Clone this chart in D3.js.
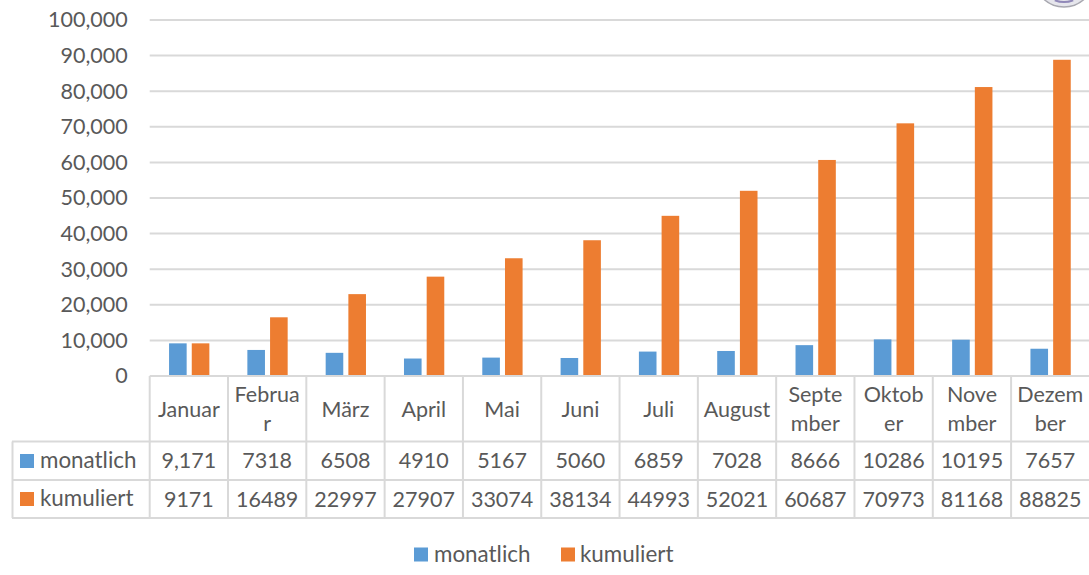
<!DOCTYPE html>
<html><head><meta charset="utf-8">
<script src="https://cdnjs.cloudflare.com/ajax/libs/d3/7.8.5/d3.min.js"></script>
<style>html,body{margin:0;padding:0;background:#fff}svg{display:block}text{font-family:Lato,"Open Sans",sans-serif;fill:#595959}</style>
</head><body><svg id="c" width="1089" height="575"></svg>
<script>
const months=["Januar","Februar","März","April","Mai","Juni","Juli","August","September","Oktober","November","Dezember"];
const monthLines=[["Januar"],["Februa","r"],["März"],["April"],["Mai"],["Juni"],["Juli"],["August"],["Septe","mber"],["Oktob","er"],["Nove","mber"],["Dezem","ber"]];
const monatlich=[9171,7318,6508,4910,5167,5060,6859,7028,8666,10286,10195,7657];
const kumuliert=[9171,16489,22997,27907,33074,38134,44993,52021,60687,70973,81168,88825];
const monatlichLabels=["9,171","7318","6508","4910","5167","5060","6859","7028","8666","10286","10195","7657"];
const seriesNames=["monatlich","kumuliert"];
const yTicks=[0,10000,20000,30000,40000,50000,60000,70000,80000,90000,100000];
const colors=["#5b9bd5","#ed7d31"];
const grid="#d9d9d9";
const svg=d3.select("#c");
const x=d3.scaleBand().domain(months).range([149.7,1089.4]).padding(0);
const y=d3.scaleLinear().domain([0,100000]).range([376,20]);
const fs=21.5, fsText=22.4;
// gridlines + y labels
const ya=svg.append("g").attr("transform","translate(149.7,0)")
 .call(d3.axisLeft(y).tickValues(yTicks).tickFormat(d3.format(",")).tickSize(0).tickPadding(22));
ya.select(".domain").remove();
ya.selectAll("text").style("font-size",fs+"px").style("font-family","Lato").attr("fill","#595959");
svg.append("g").selectAll("line").data(yTicks.filter(d=>d>0)).join("line")
 .attr("x1",149.7).attr("x2",1089).attr("y1",d=>y(d)).attr("y2",d=>y(d))
 .attr("stroke",grid).attr("stroke-width",2);
// bars
const barW=17.6;
[monatlich,kumuliert].forEach((vals,i)=>{
 svg.append("g").selectAll("rect").data(vals).join("rect")
  .attr("x",(d,j)=>x(months[j])+x.bandwidth()/2+(i===0?-19.8:2.9))
  .attr("width",barW)
  .attr("y",d=>y(d)).attr("height",d=>y(0)-y(d))
  .attr("fill",colors[i]);
});
// table
const rows=[376,441.5,480,518];
const tl=svg.append("g").attr("stroke",grid).attr("stroke-width",2);
rows.forEach((r,i)=>tl.append("line").attr("x1",i===0?149.7:12).attr("x2",1089).attr("y1",r).attr("y2",r));
tl.append("line").attr("x1",12.5).attr("x2",12.5).attr("y1",441.5).attr("y2",518);
months.forEach(m=>tl.append("line").attr("x1",x(m)).attr("x2",x(m)).attr("y1",376).attr("y2",518));
// month labels
months.forEach((m,i)=>{
 const ls=monthLines[i],cx=x(m)+x.bandwidth()/2;
 const y0=ls.length===1?409:394;
 ls.forEach((t,k)=>svg.append("text").text(t).attr("x",cx).attr("y",y0+k*29.5).attr("dy","0.35em").attr("text-anchor","middle").style("font-size",fs+"px"));
});
// value rows
[monatlichLabels,kumuliert].forEach((vals,r)=>{
 const cy=[460.5,499][r];
 svg.append("g").selectAll("text").data(vals).join("text").text(d=>d)
  .attr("x",(d,j)=>x(months[j])+x.bandwidth()/2).attr("y",cy).attr("dy","0.35em")
  .attr("text-anchor","middle").style("font-size",fs+"px");
 svg.append("rect").attr("x",20).attr("y",[454,492][r]).attr("width",14).attr("height",14).attr("fill",colors[r]);
 svg.append("text").text(seriesNames[r]).attr("x",40).attr("y",[460,498][r]).attr("dy","0.35em").style("font-size",fsText+"px");
});
// legend
[[414,434],[561,580]].forEach((p,i)=>{
 svg.append("rect").attr("x",p[0]).attr("y",547.5).attr("width",14).attr("height",14).attr("fill",colors[i]);
 svg.append("text").text(seriesNames[i]).attr("x",p[1]).attr("y",554.5).attr("dy","0.35em").style("font-size",fsText+"px");
});
// corner seal
svg.append("circle").attr("cx",1064).attr("cy",-23).attr("r",30).attr("fill","#e6e6ec").attr("stroke","#a8a8b0").attr("stroke-width",1.5);
svg.append("path").attr("d",d3.arc()({innerRadius:24,outerRadius:26,startAngle:Math.PI*0.88,endAngle:Math.PI*1.12})).attr("transform","translate(1064,-23)").attr("fill","#9088b8");
</script></body></html>
